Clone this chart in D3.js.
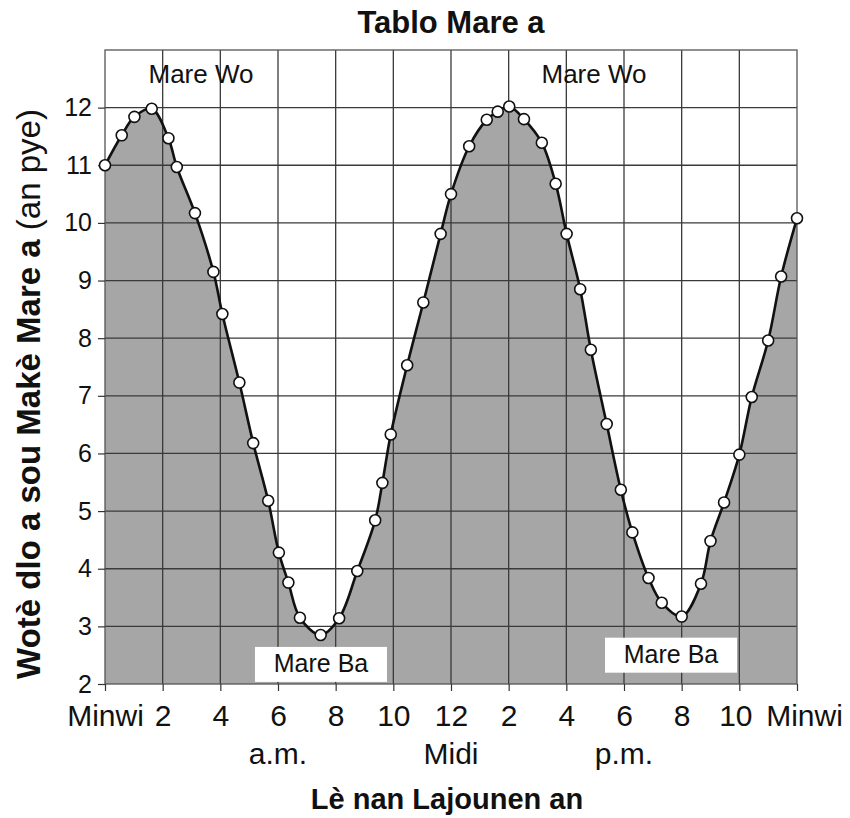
<!DOCTYPE html>
<html>
<head>
<meta charset="utf-8">
<script src="https://cdn.jsdelivr.net/npm/d3@7"></script>
<style>
  html, body { margin: 0; padding: 0; background: #fff; }
  svg { display: block; font-family: "Liberation Sans", Arial, Helvetica, sans-serif; }
</style>
</head>
<body>
<svg id="chart" width="850" height="818"></svg>
<script>
// ---- data ----
const hours = [0, 0.58, 1.02, 1.62, 2.2, 2.49, 3.12, 3.76, 4.07, 4.66, 5.14, 5.66, 6.03, 6.36, 6.76,
  7.48, 8.12, 8.75, 9.37, 9.62, 9.91, 10.48, 11.04, 11.64, 12.0, 12.63, 13.24, 13.62, 14.02, 14.53,
  15.15, 15.63, 16.01, 16.48, 16.85, 17.4, 17.89, 18.29, 18.85, 19.31, 20.0, 20.67, 21.0, 21.47,
  22.0, 22.43, 23.0, 23.45, 24.0];
const heights = [11.0, 11.52, 11.84, 11.98, 11.47, 10.97, 10.17, 9.15, 8.42, 7.23, 6.18, 5.18, 4.28, 3.76, 3.15,
  2.85, 3.14, 3.96, 4.84, 5.49, 6.33, 7.53, 8.62, 9.81, 10.5, 11.33, 11.79, 11.93, 12.02, 11.80,
  11.39, 10.68, 9.81, 8.85, 7.8, 6.51, 5.37, 4.63, 3.84, 3.41, 3.17, 3.74, 4.48, 5.15,
  5.98, 6.98, 7.96, 9.07, 10.08];
const xTickValues = [0, 2, 4, 6, 8, 10, 12, 14, 16, 18, 20, 22, 24];
const xTickLabels = ["Minwi", "2", "4", "6", "8", "10", "12", "2", "4", "6", "8", "10", "Minwi"];
const yTickValues = [2, 3, 4, 5, 6, 7, 8, 9, 10, 11, 12];
const periodLabels = [{h: 6, t: "a.m."}, {h: 12, t: "Midi"}, {h: 18, t: "p.m."}];
const highLabels = [{h: 3.33, v: 12.55, t: "Mare Wo"}, {h: 16.96, v: 12.55, t: "Mare Wo"}];
const lowLabels = [{h: 7.49, v: 2.34, t: "Mare Ba"}, {h: 19.63, v: 2.5, t: "Mare Ba"}];
const titleText = "Tablo Mare a";
const xTitle = "Lè nan Lajounen an";
const yTitleBold = "Wotè dlo a sou Makè Mare a ";
const yTitleNormal = "(an pye)";

const data = hours.map((h, i) => ({h, v: heights[i]}));

// ---- layout ----
const svg = d3.select("#chart");
const L = 105, R = 797, T = 50, B = 684;
const x = d3.scaleLinear().domain([0, 24]).range([L, R]);
const y = d3.scaleLinear().domain([2, 13]).range([B, T]);
const FONT = "'Liberation Sans', Arial, Helvetica, sans-serif";

// area fill
const curve = d3.curveCatmullRom.alpha(0.5);
const area = d3.area().x(d => x(d.h)).y0(y(2)).y1(d => y(d.v)).curve(curve);
svg.append("path").datum(data).attr("d", area).attr("fill", "#a6a6a6");

// grid
const grid = svg.append("g").attr("stroke", "#3a3a3a").attr("stroke-width", 1.3);
d3.range(3, 13).forEach(v => {
  grid.append("line").attr("x1", L).attr("x2", R).attr("y1", y(v)).attr("y2", y(v));
});
xTickValues.slice(1, -1).forEach(h => {
  grid.append("line").attr("x1", x(h)).attr("x2", x(h)).attr("y1", T).attr("y2", B);
});
svg.append("rect").attr("x", L).attr("y", T).attr("width", R - L).attr("height", B - T)
  .attr("fill", "none").attr("stroke", "#555").attr("stroke-width", 1.3);

// axes
const yAxis = d3.axisLeft(y).tickValues(yTickValues).tickSize(7).tickPadding(6).tickFormat(d3.format("d"));
const gy = svg.append("g").attr("transform", `translate(${L},0)`).call(yAxis);
gy.select(".domain").remove();
gy.selectAll(".tick line").attr("stroke", "#333").attr("stroke-width", 1.2);
gy.selectAll(".tick text").attr("font-size", 25).attr("fill", "#111").attr("font-family", FONT);

const xAxis = d3.axisBottom(x).tickValues(xTickValues).tickSize(7).tickPadding(14)
  .tickFormat((d, i) => xTickLabels[i]);
const gx = svg.append("g").attr("transform", `translate(0,${B})`).call(xAxis);
gx.select(".domain").remove();
gx.selectAll(".tick line").attr("stroke", "#333").attr("stroke-width", 1.2);
gx.selectAll(".tick text").attr("font-size", 30).attr("fill", "#111").attr("font-family", FONT)
  .attr("dx", (d, i) => i === xTickValues.length - 1 ? 7 : (i === xTickValues.length - 2 ? -4 : 0));

// line
const line = d3.line().x(d => x(d.h)).y(d => y(d.v)).curve(curve);
svg.append("path").datum(data).attr("d", line).attr("fill", "none")
  .attr("stroke", "#111").attr("stroke-width", 2.6);

// points
svg.append("g").selectAll("circle").data(data).join("circle")
  .attr("cx", d => x(d.h)).attr("cy", d => y(d.v)).attr("r", 5.5)
  .attr("fill", "#fff").attr("stroke", "#111").attr("stroke-width", 1.6);

// annotations
svg.append("g").selectAll("text").data(highLabels).join("text")
  .attr("x", d => x(d.h)).attr("y", d => y(d.v)).attr("text-anchor", "middle")
  .attr("dominant-baseline", "middle").attr("font-size", 26).attr("fill", "#111").text(d => d.t);

const low = svg.append("g").selectAll("g").data(lowLabels).join("g")
  .attr("transform", d => `translate(${x(d.h)},${y(d.v)})`);
low.append("rect").attr("x", -66).attr("y", -17.5).attr("width", 132).attr("height", 35).attr("fill", "#fff");
low.append("text").attr("text-anchor", "middle").attr("dominant-baseline", "middle")
  .attr("y", 1).attr("font-size", 25).attr("fill", "#111").text(d => d.t);

// period labels
svg.append("g").selectAll("text").data(periodLabels).join("text")
  .attr("x", d => x(d.h)).attr("y", 764).attr("text-anchor", "middle")
  .attr("font-size", 30).attr("fill", "#111").text(d => d.t);

// titles
svg.append("text").attr("x", 451).attr("y", 33).attr("text-anchor", "middle")
  .attr("font-size", 31).attr("font-weight", "bold").attr("fill", "#111").text(titleText);
svg.append("text").attr("x", 447).attr("y", 809).attr("text-anchor", "middle")
  .attr("font-size", 29).attr("font-weight", "bold").attr("fill", "#111").text(xTitle);
const yt = svg.append("text").attr("transform", "translate(40,394) rotate(-90)")
  .attr("text-anchor", "middle").attr("font-size", 33).attr("fill", "#111");
yt.append("tspan").attr("font-weight", "bold").text(yTitleBold);
yt.append("tspan").attr("font-weight", "normal").text(yTitleNormal);
</script>
</body>
</html>
